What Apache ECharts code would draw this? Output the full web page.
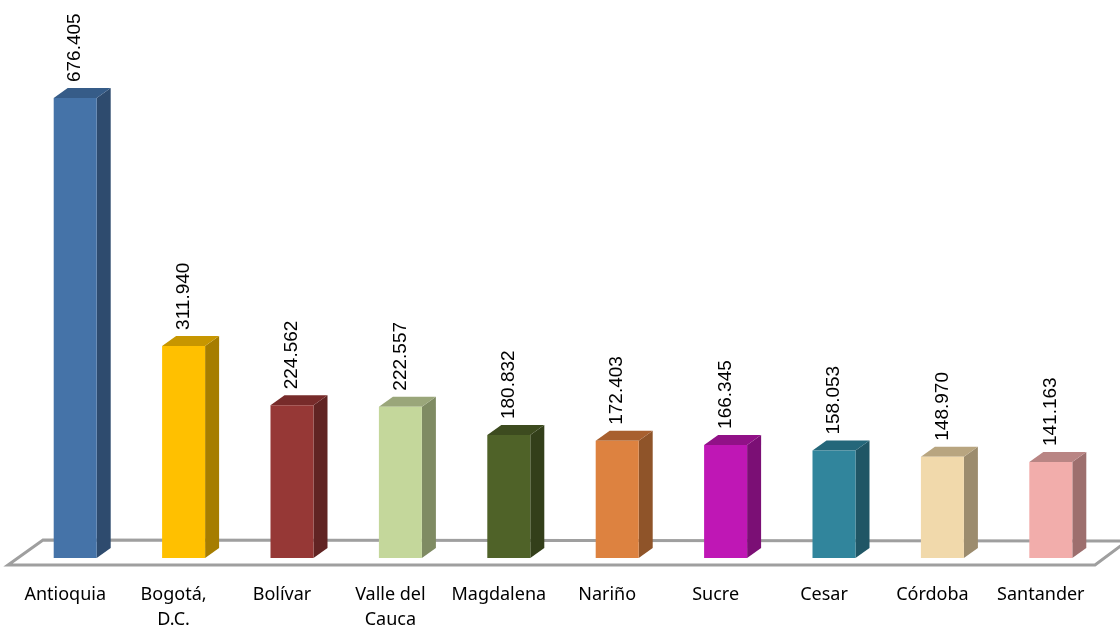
<!DOCTYPE html>
<html>
<head>
<meta charset="utf-8">
<script src="https://cdn.jsdelivr.net/npm/echarts@6/dist/echarts.min.js"></script>
<style>
  html, body { margin: 0; padding: 0; background: #fff; }
  #chart { width: 1120px; height: 626px; }
</style>
</head>
<body>
<div id="chart"></div>
<script>
const categories = ['Antioquia', 'Bogotá,\nD.C.', 'Bolívar', 'Valle del\nCauca', 'Magdalena', 'Nariño', 'Sucre', 'Cesar', 'Córdoba', 'Santander']
const values = [676405, 311940, 224562, 222557, 180832, 172403, 166345, 158053, 148970, 141163]

// front / side / top shades for each bar
const barColors = [
  ['#4573a8', '#2e4b6e', '#365c88'],
  ['#ffc000', '#a67d00', '#c79600'],
  ['#963836', '#612423', '#772b2a'],
  ['#c4d79b', '#7f8b63', '#9aa67a'],
  ['#4f6228', '#333f1a', '#3d4b1f'],
  ['#dd8240', '#8f5429', '#a8602f'],
  ['#bf17b5', '#7b0f75', '#911187'],
  ['#31859c', '#205665', '#24677a'],
  ['#f1d9ab', '#9c8c6e', '#b8a580'],
  ['#f2adab', '#9d6f6e', '#b98584']
]

const fmt = (v) => String(v).replace(/\B(?=(\d{3})+(?!\d))/g, '.')

const BAR_W = 43
const DX = 14   // depth to the right
const DY = 10   // depth upwards
const SHIFT = 10 // bars sit a bit right of the label centre

const renderBar = (params, api) => {
  const idx = api.value(0)
  const top = api.coord([idx, api.value(1)])
  const base = api.coord([idx, 0])
  const cx = top[0] + SHIFT
  const x0 = cx - BAR_W / 2
  const x1 = cx + BAR_W / 2
  const y0 = top[1]
  const y1 = base[1]
  const c = barColors[idx]
  return {
    type: 'group',
    children: [
      {
        type: 'polygon',
        shape: { points: [[x1, y0], [x1 + DX, y0 - DY], [x1 + DX, y1 - DY], [x1, y1]] },
        style: { fill: c[1] }
      },
      {
        type: 'polygon',
        shape: { points: [[x0, y0], [x0 + DX, y0 - DY], [x1 + DX, y0 - DY], [x1, y0]] },
        style: { fill: c[2] }
      },
      {
        type: 'rect',
        shape: { x: x0, y: y0, width: BAR_W, height: y1 - y0 },
        style: { fill: c[0] }
      },
      {
        type: 'text',
        x: cx,
        y: y0 - 16,
        rotation: Math.PI / 2,
        style: {
          text: fmt(api.value(1)),
          fontFamily: 'Liberation Sans',
          fontSize: 19,
          fill: '#000',
          align: 'left',
          verticalAlign: 'middle'
        }
      }
    ]
  }
}

const chart = echarts.init(document.getElementById('chart'))
chart.setOption({
  animation: false,
  grid: { left: 11, right: 25, top: 14, bottom: 68, outerBoundsMode: 'none', containLabel: false },
  xAxis: {
    type: 'category',
    data: categories,
    axisLine: { show: false },
    axisTick: { show: false },
    axisLabel: {
      margin: 24,
      fontFamily: 'Noto Sans',
      fontSize: 18,
      lineHeight: 25,
      color: '#000',
      interval: 0
    }
  },
  yAxis: {
    type: 'value',
    min: 0,
    max: 800000,
    show: false,
    splitLine: { show: false }
  },
  graphic: [
    {
      type: 'polyline',
      z: 0,
      shape: { points: [[1140, 541], [43, 540], [8, 565], [1095, 565], [1130, 539]] },
      style: { stroke: '#9f9f9f', lineWidth: 3, fill: null }
    }
  ],
  series: [
    {
      type: 'custom',
      z: 5,
      renderItem: renderBar,
      data: values.map((v, i) => [i, v])
    }
  ]
})
</script>
</body>
</html>
